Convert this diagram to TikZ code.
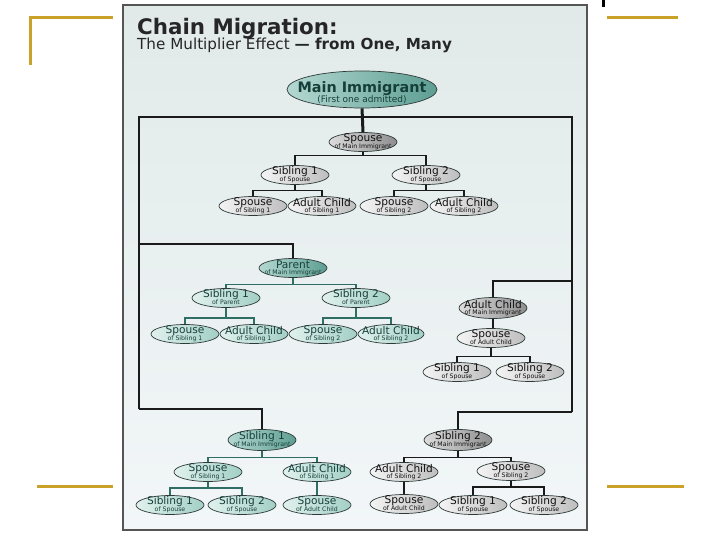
\documentclass[tikz,border=0pt]{standalone}
\usepackage{fontspec}
\setmainfont{DejaVu Sans}
\usetikzlibrary{shapes.geometric}
\definecolor{gold}{HTML}{C9A227}
\definecolor{panelT}{HTML}{E1EAE9}
\definecolor{panelB}{HTML}{F2F6F8}
\definecolor{panelLine}{HTML}{555555}
\definecolor{tDl}{HTML}{B3D8D1}
\definecolor{tDr}{HTML}{5E9E93}
\definecolor{tLl}{HTML}{E0F1ED}
\definecolor{tLr}{HTML}{A3CFC5}
\definecolor{gDl}{HTML}{DCDCDC}
\definecolor{gDr}{HTML}{8E8E8E}
\definecolor{gLl}{HTML}{F4F4F4}
\definecolor{gLr}{HTML}{BEBEBE}
\definecolor{ellLine}{HTML}{2E3A38}
\definecolor{tealTxt}{HTML}{173F3A}
\definecolor{grayTxt}{HTML}{111111}
\definecolor{tealLine}{HTML}{2F6E65}
\definecolor{darkLine}{HTML}{1A1A1A}
\begin{document}
\begin{tikzpicture}[x=1pt,y=-1pt,
  ellbase/.style={ellipse, draw=ellLine, line width=0.7pt, minimum width=68pt, minimum height=19pt, inner sep=0pt},
  tD/.style={ellbase, left color=tDl, right color=tDr},
  tL/.style={ellbase, left color=tLl, right color=tLr},
  gD/.style={ellbase, left color=gDl, right color=gDr},
  gL/.style={ellbase, left color=gLl, right color=gLr},
  mainf/.style={font=\fontsize{10.6}{12}\selectfont, yshift=3.5pt, inner sep=0pt},
  subf/.style={font=\fontsize{6.2}{7}\selectfont, yshift=-4.5pt, inner sep=0pt},
  tt/.style 2 args={label={[mainf,text=tealTxt]center:#1},label={[subf,text=tealTxt]center:#2}},
  gt/.style 2 args={label={[mainf,text=grayTxt]center:#1},label={[subf,text=grayTxt]center:#2}},
  goldline/.style={draw=gold, line width=3pt},
  frameline/.style={draw=darkLine, line width=1.3pt},
  dline/.style={draw=darkLine, line width=1.3pt},
  tline/.style={draw=tealLine, line width=1.3pt}
]
\useasboundingbox (0,0) rectangle (720,540);
\fill[white] (0,0) rectangle (720,540);

% gold corner lines
\draw[goldline] (113,18) -- (30,18) -- (30,65);
\draw[goldline] (37,486) -- (113,486);
\draw[goldline] (607,18) -- (678,18);
\draw[goldline] (607,486) -- (684,486);
\fill[black] (602,0) rectangle (605,7);

% panel
\shade[top color=panelT, bottom color=panelB] (123,5) rectangle (587,530);
\draw[draw=panelLine, line width=1.5pt] (123,5) rectangle (587,530);

% titles
\node[anchor=base west, inner sep=0pt, font=\bfseries\fontsize{21.4}{24}\selectfont, text=black!85] (title) at (137,35) {Chain Migration:};
\node[anchor=base west, inner sep=0pt, font=\fontsize{15.2}{17}\selectfont, text=black!85] (subtitle) at (137,50) {The Multiplier Effect \textbf{— from One, Many}};

% main nodes
\node[tD, minimum width=150pt, minimum height=37pt,
  label={[font=\bfseries\fontsize{14.4}{16}\selectfont, text=tealTxt, yshift=1pt, inner sep=0pt]center:Main Immigrant},
  label={[font=\fontsize{9}{10}\selectfont, text=tealTxt, yshift=-10pt, inner sep=0pt]center:(First one admitted)}] (mi) at (362,89.5) {};

\node[gD, gt={Spouse}{of Main Immigrant}] (smi) at (363,142) {};
\node[gL, gt={Sibling 1}{of Spouse}] (s1) at (295,175) {};
\node[gL, gt={Sibling 2}{of Spouse}] (s2) at (426,175) {};
\node[gL, gt={Spouse}{of Sibling 1}] (sp1) at (253,206) {};
\node[gL, gt={Adult Child}{of Sibling 1}] (ac1) at (322,206) {};
\node[gL, gt={Spouse}{of Sibling 2}] (sp2) at (394,206) {};
\node[gL, gt={Adult Child}{of Sibling 2}] (ac2) at (464,206) {};

\node[tD, tt={Parent}{of Main Immigrant}] (par) at (293,268) {};
\node[tL, tt={Sibling 1}{of Parent}] (ps1) at (226,298) {};
\node[tL, tt={Sibling 2}{of Parent}] (ps2) at (356,298) {};
\node[tL, tt={Spouse}{of Sibling 1}] (psp1) at (185,334) {};
\node[tL, tt={Adult Child}{of Sibling 1}] (pac1) at (254,334) {};
\node[tL, tt={Spouse}{of Sibling 2}] (psp2) at (323,334) {};
\node[tL, tt={Adult Child}{of Sibling 2}, minimum width=66pt] (pac2) at (391,334) {};

\node[gD, gt={Adult Child}{of Main Immigrant}, minimum height=21pt] (ac) at (493,308) {};
\node[gL, gt={Spouse}{of Adult Child}] (acsp) at (491,338) {};
\node[gL, gt={Sibling 1}{of Spouse}] (acs1) at (457,372) {};
\node[gL, gt={Sibling 2}{of Spouse}] (acs2) at (530,372) {};

\node[tD, tt={Sibling 1}{of Main Immigrant}, minimum height=21pt] (sb1) at (262,440) {};
\node[tL, tt={Spouse}{of Sibling 1}] (bsp) at (208,472) {};
\node[tL, tt={Adult Child}{of Sibling 1}] (bac) at (317,472) {};
\node[tL, tt={Sibling 1}{of Spouse}] (bs1) at (170,505) {};
\node[tL, tt={Sibling 2}{of Spouse}] (bs2) at (242,505) {};
\node[tL, tt={Spouse}{of Adult Child}] (bacsp) at (317,505) {};

\node[gD, gt={Sibling 2}{of Main Immigrant}, minimum height=21pt] (sb2) at (458,440) {};
\node[gL, gt={Adult Child}{of Sibling 2}] (cac) at (404,472) {};
\node[gL, gt={Spouse}{of Sibling 2}] (csp) at (511,471) {};
\node[gL, gt={Spouse}{of Adult Child}] (cacsp) at (404,504) {};
\node[gL, gt={Sibling 1}{of Spouse}] (cs1) at (473,505) {};
\node[gL, gt={Sibling 2}{of Spouse}] (cs2) at (544,505) {};

% frame connectors
\coordinate (jL) at (139,117);
\coordinate (jR) at (572,117);
\coordinate (cP) at (139,244);
\coordinate (cS1) at (139,409);
\coordinate (cA) at (572,281);
\coordinate (cS2) at (572,412);
\draw[frameline] (cS1) -- (jL) -- (jR) -- (cS2);
\draw[frameline] (cP) -| (par.north);
\draw[frameline] (cS1) -| (sb1.north);
\draw[frameline] (cA) -| (ac.north);
\draw[frameline] (cS2) -| (sb2.north);
\draw[draw=darkLine, line width=3pt] (mi.south) -- (smi.north);

% spouse tree
\draw[dline] (smi.south) -- ++(0,3.5) -| (s1.north);
\draw[dline] (smi.south) ++(0,3.5) -| (s2.north);
\draw[dline] (s1.south) -- ++(0,5.5) -| (sp1.north);
\draw[dline] (s1.south) ++(0,5.5) -| (ac1.north);
\draw[dline] (s2.south) -- ++(0,5.5) -| (sp2.north);
\draw[dline] (s2.south) ++(0,5.5) -| (ac2.north);

% parent tree
\draw[tline] (par.south) -- ++(0,6.5) -| (ps1.north);
\draw[tline] (par.south) ++(0,6.5) -| (ps2.north);
\draw[tline] (ps1.south) -- ++(0,10) -| (psp1.north);
\draw[tline] (ps1.south) ++(0,10) -| (pac1.north);
\draw[tline] (ps2.south) -- ++(0,10) -| (psp2.north);
\draw[tline] (ps2.south) ++(0,10) -| (pac2.north);

% adult child tree
\draw[dline] (ac.south) -- (acsp.north -| ac.south);
\draw[dline] (acsp.south) -- ++(0,8.5) -| (acs1.north);
\draw[dline] (acsp.south) ++(0,8.5) -| (acs2.north);

% sibling 1 tree
\draw[tline] (sb1.south) -- ++(0,6.5) -| (bsp.north);
\draw[tline] (sb1.south) ++(0,6.5) -| (bac.north);
\draw[tline, line width=1.8pt] (bsp.south) -- ++(0,6.5) -| (bs1.north);
\draw[tline, line width=1.8pt] (bsp.south) ++(0,6.5) -| (bs2.north);
\draw[tline] (bac.south) -- (bacsp.north);

% sibling 2 tree
\draw[dline] (sb2.south) -- ++(0,6.5) -| (cac.north);
\draw[dline] (sb2.south) ++(0,6.5) -| (csp.north);
\draw[dline] (cac.south) -- (cacsp.north);
\draw[dline, line width=2.2pt] (csp.south) -- ++(0,6.5) -| (cs1.north);
\draw[dline, line width=2.2pt] (csp.south) ++(0,6.5) -| (cs2.north);
\end{tikzpicture}
\end{document}
